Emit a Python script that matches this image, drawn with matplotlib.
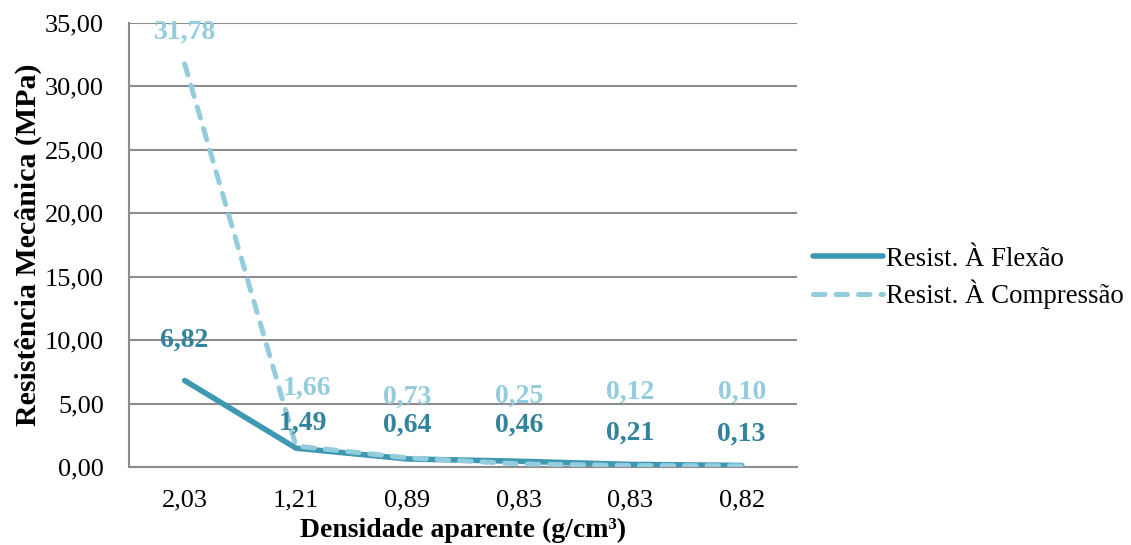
import numpy as np
import matplotlib.pyplot as plt

# valores dos ensaios
densidades = ["2,03", "1,21", "0,89", "0,83", "0,83", "0,82"]
flexao = [6.82, 1.49, 0.64, 0.46, 0.21, 0.13]
compressao = [31.78, 1.66, 0.73, 0.25, 0.12, 0.10]

# deslocamento dos rótulos (pixels)
off_flex = [(0, 40), (7, 25), (0, 34), (0, 36), (0, 31), (0, 31)]
off_comp = [(0, 32), (11, 58), (0, 61), (0, 68), (0, 73), (0, 74)]

c_flex = "#3f98b2"
c_flex_txt = "#31849b"
c_comp = "#93cddd"

plt.rcParams["font.family"] = ["Liberation Serif", "DejaVu Serif"]

fig = plt.figure(figsize=(11.31, 5.45), dpi=100)
ax = fig.add_axes([0.114, 0.143, 0.591, 0.815])

x = np.arange(len(densidades))
l1, = ax.plot(x, flexao, color=c_flex, lw=4, solid_capstyle="round",
              label="Resist. À Flexão", zorder=3)
l2, = ax.plot(x, compressao, color=c_comp, lw=3.6, ls=(0, (2.3, 2.2)),
              dash_capstyle="round", label="Resist. À Compressão", zorder=4)

for i in range(len(x)):
    ax.annotate(f"{flexao[i]:.2f}".replace(".", ","), (x[i], flexao[i]),
                xytext=off_flex[i], textcoords="offset pixels",
                ha="center", va="center", fontsize=20, fontweight="bold",
                color=c_flex_txt, zorder=5)
    ax.annotate(f"{compressao[i]:.2f}".replace(".", ","), (x[i], compressao[i]),
                xytext=off_comp[i], textcoords="offset pixels",
                ha="center", va="center", fontsize=20, fontweight="bold",
                color=c_comp, zorder=5)

ax.set_xlim(-0.5, len(x) - 0.5)
ax.set_ylim(0, 35)
ax.set_yticks(np.arange(0, 36, 5))
ax.set_yticklabels([f"{v:.2f}".replace(".", ",") for v in np.arange(0, 36, 5)])
ax.set_xticks(x)
ax.set_xticklabels(densidades)
ax.tick_params(length=0, labelsize=19)
ax.tick_params(axis="y", pad=18)
ax.tick_params(axis="x", pad=16)
ax.grid(axis="y", color="#8c8c8c", lw=1.5)
ax.set_axisbelow(True)
for s in ["top", "right"]:
    ax.spines[s].set_visible(False)
for s in ["left", "bottom"]:
    ax.spines[s].set_color("#8c8c8c")
    ax.spines[s].set_linewidth(1.5)

ax.set_ylabel("Resistência Mecânica (MPa)", fontsize=21.5, fontweight="bold", labelpad=2)
ax.set_xlabel("Densidade aparente (g/cm³)", fontsize=20, fontweight="bold", labelpad=5)

fig.legend(handles=[l1, l2], loc="center left", bbox_to_anchor=(0.697, 0.49),
           frameon=False, fontsize=19.4, handlelength=2.6, handletextpad=0.12,
           labelspacing=0.3)

fig.savefig("out.png", dpi=100)
